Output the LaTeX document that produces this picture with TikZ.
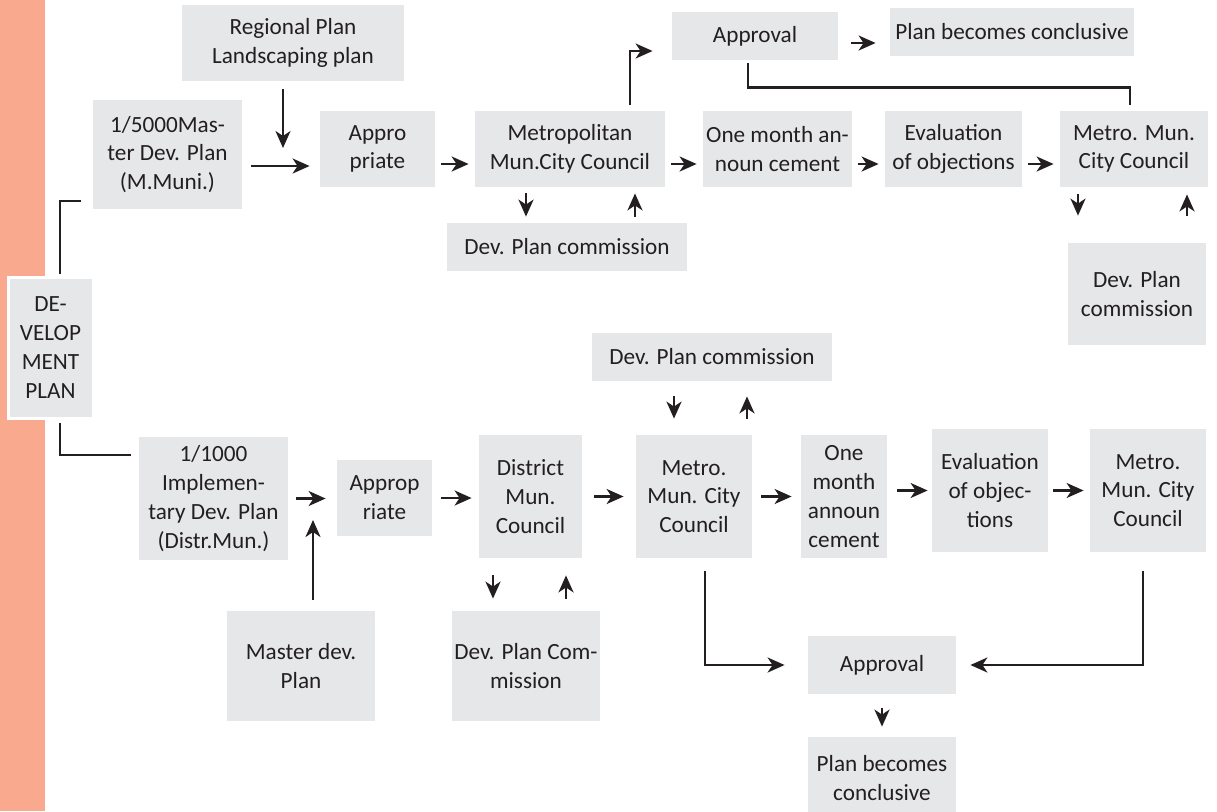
\documentclass[tikz,border=0pt]{standalone}
\usepackage{fontspec}
\setmainfont{Carlito}
\usetikzlibrary{arrows.meta,calc,positioning}
\definecolor{boxgray}{RGB}{230,231,232}
\definecolor{barorange}{RGB}{249,170,142}
\definecolor{ink}{RGB}{35,31,32}

\begin{document}
\begin{tikzpicture}[x=0.5pt,y=-0.5pt,
  box/.style={fill=boxgray,text=ink,align=center,inner sep=0pt,font=\fontsize{11.6}{14.4}\selectfont},
  wh/.style 2 args={minimum width=#1*0.5pt,minimum height=#2*0.5pt},
  flow/.style={draw=ink,line width=1.2pt,-{Stealth[length=8.5pt,width=7.5pt,inset=2.5pt]},shorten <=3pt,shorten >=3pt},
  link/.style={draw=ink,line width=1.2pt}]
\useasboundingbox (0,0) rectangle (1217,811);
\fill[barorange] (0,0) rectangle (45,811);

\node[box,wh={85}{141},draw=white,line width=1.5pt] (dev) at (50.5,347.5) {DE-\\VELOP\\MENT\\PLAN};

\node[box,wh={149}{109}] (m5000) at (167.5,154.5) {1/5000Mas-\\ter Dev. Plan\\(M.Muni.)};
\node[box,wh={222}{76}] (regional) at (293,43) {Regional Plan\\Landscaping plan};
\node[box,wh={115}{76}] (approT) at (377.5,149) {Appro\\priate};
\node[box,wh={190}{76}] (metroT) at (570,149) {Metropolitan\\Mun.City Council};
\node[box,wh={240}{48}] (dpcT) at (567,247) {Dev. Plan commission};
\node[box,wh={166}{48}] (apprvT) at (755,36) {Approval};
\node[box,wh={244}{48}] (concT) at (1012,32) {Plan becomes conclusive};
\node[box,wh={149}{76}] (oneT) at (777.5,149) {One month an-\\noun cement};
\node[box,wh={137}{76}] (evalT) at (953.5,149) {Evaluation\\of objections};
\node[box,wh={148}{76}] (mmcT) at (1134,149) {Metro. Mun.\\City Council};
\node[box,wh={138}{102}] (dpcR) at (1137,294) {Dev. Plan\\commission};

\node[box,wh={240}{48}] (dpcM) at (712,357) {Dev. Plan commission};
\node[box,wh={149}{123}] (m1000) at (213.5,498.5) {1/1000\\Implemen-\\tary Dev. Plan\\(Distr.Mun.)};
\node[box,wh={95}{76}] (approB) at (384.5,498) {Approp\\riate};
\node[box,wh={103}{123}] (district) at (530.5,496.5) {District\\Mun.\\Council};
\node[box,wh={116}{123}] (metroB) at (694,496.5) {Metro.\\Mun. City\\Council};
\node[box,wh={86}{123}] (oneB) at (844,496.5) {One\\month\\announ\\cement};
\node[box,wh={116}{123}] (evalB) at (990,490.5) {Evaluation\\of objec-\\tions};
\node[box,wh={116}{123}] (mmcB) at (1148,490.5) {Metro.\\Mun. City\\Council};
\node[box,wh={148}{110}] (master) at (301,666) {Master dev.\\Plan};
\node[box,wh={148}{110}] (dpcB) at (526,666) {Dev. Plan Com-\\mission};
\node[box,wh={148}{58}] (apprvB) at (882,665) {Approval};
\node[box,wh={148}{82}] (concB) at (882,778) {Plan becomes\\conclusive};

\coordinate (rgtip) at (283,148);
\coordinate (mstip) at (313,520);
\coordinate (apx) at ($(apprvT.east)+(0,7)$);

\draw[link,shorten <=1pt,shorten >=6pt] ($(dev.north)+(9.5,0)$) |- ($(m5000.west)+(0,46.5)$);
\draw[link,shorten <=1.5pt,shorten >=4pt] ($(dev.south)+(9.5,0)$) |- ($(m1000.west)+(0,-43.5)$);

\draw[flow,shorten <=4pt,shorten >=0pt] (regional.south -| rgtip) -- (rgtip);
\draw[flow,shorten <=4.5pt,shorten >=5pt] ($(m5000.east)+(0,11.5)$) -- ($(approT.west)+(0,17)$);
\foreach \a/\b in {approT/metroT,metroT/oneT,oneT/evalT,evalT/mmcT}
  \draw[flow] ($(\a.east)+(0,15)$) -- ($(\b.west)+(0,15)$);
\draw[flow,shorten >=9.5pt] ($(metroT.north)+(60,0)$) |- ($(apprvT.west)+(0,15)$);
\draw[flow,shorten <=6.5pt,shorten >=7pt] (apx) -- (apx -| concT.west);
\draw[link,shorten <=3pt,shorten >=1.5pt] ($(mmcT.north)+(-4,0)$) |- ($(apprvT.south)+(-7,27)$) -- ($(apprvT.south)+(-7,0)$);

\foreach \u/\d/\l/\r/\su/\sd in {metroT/dpcT/-44/65/3/3,mmcT/dpcR/-56/53/3.5/13.5,dpcM/metroB/-38/35/7.5/8,district/dpcB/-37.5/35.5/8.5/6}{
  \coordinate (dn) at ($(\u.south)+(\l,0)$);
  \coordinate (up) at ($(\u.south)+(\r,0)$);
  \draw[flow,shorten <=\su pt,shorten >=\sd pt] (dn) -- (dn |- \d.north);
  \draw[flow,shorten <=\sd pt,shorten >=\su pt] (up |- \d.north) -- (up);
}

\draw[flow,shorten <=4pt,shorten >=5.5pt] (m1000.east) -- (m1000.east -| approB.west);
\draw[flow,shorten <=5.5pt,shorten >=0pt] (master.north -| mstip) -- (mstip);
\draw[flow,shorten <=4.5pt,shorten >=3.5pt] (approB.east) -- (approB.east -| district.west);
\draw[flow,shorten <=6pt,shorten >=6pt] (district.east) -- (district.east -| metroB.west);
\draw[flow,shorten <=4.5pt,shorten >=4.5pt] (metroB.east) -- (metroB.east -| oneB.west);
\draw[flow,shorten <=5pt,shorten >=2pt] (evalB.west -| oneB.east) -- (evalB.west);
\draw[flow,shorten <=2.5pt,shorten >=3pt] (evalB.east) -- (mmcB.west);

\draw[flow,shorten <=6.5pt,shorten >=11.5pt] ($(metroB.south)+(11,0)$) |- (apprvB.west);
\draw[flow,shorten <=9.5pt,shorten >=7pt] ($(mmcB.south)+(-5,0)$) |- (apprvB.east);
\draw[flow,shorten <=7pt,shorten >=5pt] (apprvB.south) -- (concB.north);
\end{tikzpicture}
\end{document}
